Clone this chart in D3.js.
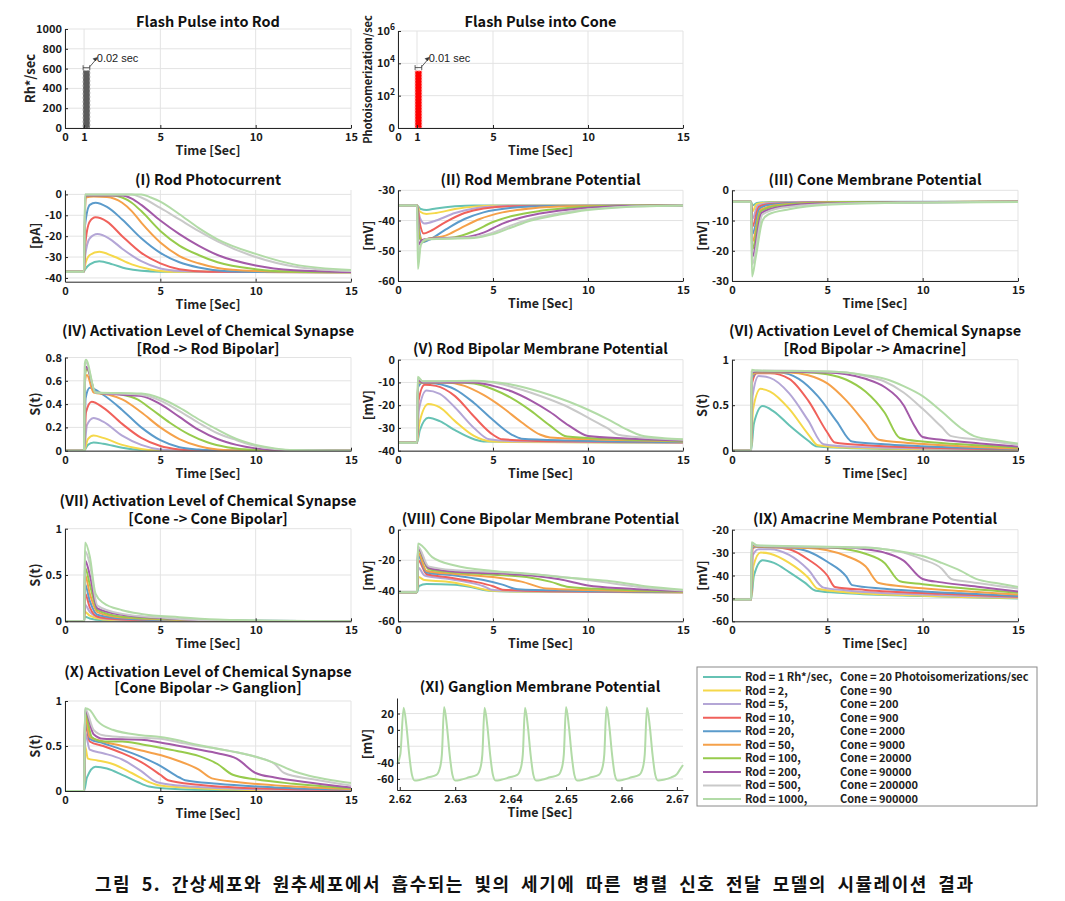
<!DOCTYPE html>
<html><head><meta charset="utf-8">
<script src="https://cdn.jsdelivr.net/npm/d3@7"></script>
<style>
body{margin:0;background:#fff;}
text{font-family:"Noto Sans CJK KR","Noto Sans",sans-serif;}
</style></head>
<body>
<script>
// ---------------- DATA ----------------
const rodLevels = [1, 2, 5, 10, 20, 50, 100, 200, 500, 1000];
const coneLevels = [20, 90, 200, 900, 2000, 9000, 20000, 90000, 200000, 900000];
const pulseTicks = [0, 1, 5, 10, 15];
const timeTicks = [0, 5, 10, 15];

// flash pulses: [start, end] time span as drawn, amplitude
const rodPulseSpan = [0.95, 1.3];
const rodPulseAmp = 580;
const conePulseSpan = [0.9, 1.25];
const conePulseAmp = 3400;
const rodPulseTicks = [0, 200, 400, 600, 800, 1000];
const conePulseTicks = [1, 100, 10000, 1000000];

// (I) Rod photocurrent [pA]
const rodPhotocurrent = [
 [[0,-37],[0.99,-37],[1.05,-36],[1.3,-33.5],[1.8,-32],[2.5,-33.5],[3.2,-35.5],[4,-36.6],[5,-37],[15,-37]],
 [[0,-37],[0.99,-37],[1.05,-34],[1.3,-29],[1.8,-27.5],[2.5,-29.5],[3.5,-33.5],[4.5,-36],[5.5,-37],[15,-37]],
 [[0,-37],[0.99,-37],[1.05,-30],[1.3,-21],[1.7,-19],[2.3,-21],[3,-26],[4,-32],[5,-35.5],[6,-36.7],[8,-37.2],[15,-37.2]],
 [[0,-37],[0.99,-37],[1.05,-25],[1.3,-13],[1.6,-11],[2.2,-13],[3,-20],[4,-28],[5,-33],[6,-35.8],[7.5,-37],[15,-37.3]],
 [[0,-37],[0.99,-37],[1.05,-15],[1.3,-5],[1.6,-4],[2.2,-6],[3,-12],[4,-21],[5,-28],[6,-32.5],[7,-35],[8.5,-36.8],[10,-37.2],[15,-37.3]],
 [[0,-37],[0.99,-37],[1.08,-1.5],[1.5,-1],[2.2,-1.2],[3,-4],[3.5,-8],[4,-13.5],[5,-23],[6,-29.5],[7,-33],[8,-35.2],[10,-36.7],[12,-37.1],[15,-37.3]],
 [[0,-37],[0.99,-37],[1.07,-0.5],[2.5,-0.5],[3,-1.5],[3.5,-4],[4,-8],[5,-17.5],[6,-24.5],[7,-29],[8,-32.5],[10,-35.8],[12,-37],[15,-37.3]],
 [[0,-37],[0.99,-37],[1.07,-0.5],[3,-0.5],[3.5,-2],[4,-5],[5,-12.5],[6,-19],[7,-24.5],[8,-29],[10,-34],[12,-36.3],[15,-37.2]],
 [[0,-37],[0.99,-37],[1.06,0],[3.5,0],[4,-1.5],[5,-6.5],[6,-12],[7,-17.5],[8,-22.5],[10,-30],[12,-34.5],[15,-36.7]],
 [[0,-37],[0.99,-37],[1.05,0],[4,0],[4.5,-1.5],[5,-3.5],[6,-9.5],[7,-16],[8,-21.5],[10,-28.5],[12,-33.5],[15,-36.2]]
];

// (II) Rod membrane potential [mV]
const rodPotential = [
 [[0,-35],[1,-35],[1.2,-36.2],[1.5,-36.5],[2,-36],[3,-35.3],[4,-35],[15,-35]],
 [[0,-35],[1,-35],[1.15,-37],[1.5,-37.8],[2,-37.5],[3,-36.2],[4,-35.4],[5,-35.1],[15,-35]],
 [[0,-35],[1,-35],[1.15,-39],[1.4,-41],[2,-40],[3,-37.5],[4,-36],[5,-35.4],[6,-35.1],[15,-35]],
 [[0,-35],[1,-35],[1.12,-40],[1.35,-44.3],[1.7,-43.5],[2.5,-40.5],[3.5,-37.5],[4.5,-36],[6,-35.3],[15,-35]],
 [[0,-35],[1,-35],[1.1,-42],[1.3,-47.2],[1.6,-46.5],[2.5,-43],[3.5,-39.5],[4.5,-37.3],[6,-35.8],[8,-35.2],[15,-35]],
 [[0,-35],[1,-35],[1.1,-44],[1.3,-46.5],[1.6,-46],[2.5,-45],[3.3,-42.5],[4.3,-39.5],[5.5,-37.3],[7,-36],[9,-35.3],[15,-35]],
 [[0,-35],[1,-35],[1.1,-45],[1.3,-47],[1.6,-46],[3,-45.5],[4,-43.5],[5,-40.5],[6,-38.5],[7.5,-36.8],[9.5,-35.6],[12,-35.1],[15,-35]],
 [[0,-35],[1,-35],[1.08,-48],[1.25,-46.5],[1.6,-46],[3.5,-45.5],[4.5,-44],[5.5,-41],[6.5,-39],[8,-37.2],[10,-35.8],[12,-35.2],[15,-35]],
 [[0,-35],[1,-35],[1.07,-52],[1.2,-48],[1.5,-46.2],[4,-45.5],[5,-44],[6,-41.5],[7,-39.5],[8.5,-37.6],[10,-36.3],[12,-35.4],[15,-35]],
 [[0,-35],[1,-35],[1.05,-56],[1.2,-48],[1.5,-46.2],[4,-45.8],[5,-44.5],[6,-42.2],[7,-40],[8.5,-38],[10,-36.5],[12,-35.5],[15,-35]]
];

// (III) Cone membrane potential [mV]
const conePotential = [
 [[0,-3.8],[1,-3.8],[1.08,-5],[1.3,-4.2],[2,-3.9],[15,-3.8]],
 [[0,-3.8],[1,-3.8],[1.07,-7],[1.3,-4.5],[2,-4],[15,-3.8]],
 [[0,-3.8],[1,-3.8],[1.07,-9.5],[1.35,-5],[2,-4.2],[4,-3.9],[15,-3.8]],
 [[0,-3.8],[1,-3.8],[1.07,-12],[1.4,-5.5],[2,-4.5],[4,-4],[15,-3.8]],
 [[0,-3.8],[1,-3.8],[1.07,-14.5],[1.45,-6],[2,-4.8],[4,-4.1],[15,-3.8]],
 [[0,-3.8],[1,-3.8],[1.06,-17],[1.5,-6.5],[2.2,-5],[4,-4.2],[7,-3.9],[15,-3.8]],
 [[0,-3.8],[1,-3.8],[1.06,-19.5],[1.5,-7],[2.3,-5.2],[4,-4.3],[7,-3.9],[15,-3.8]],
 [[0,-3.8],[1,-3.8],[1.06,-22],[1.55,-7.5],[2.5,-5.5],[4.5,-4.4],[8,-4],[15,-3.8]],
 [[0,-3.8],[1,-3.8],[1.05,-24.5],[1.6,-8],[2.6,-5.8],[5,-4.5],[9,-4],[15,-3.8]],
 [[0,-3.8],[1,-3.8],[1.05,-28.5],[1.25,-22],[1.6,-10],[1.9,-8],[3,-6.3],[5,-4.8],[8,-4.2],[15,-3.9]]
];

// (IV) Synapse activation Rod -> Rod Bipolar
const synRodToRodBipolar = [
 [[0,0],[1,0],[1.2,0.05],[1.5,0.07],[2,0.06],[3,0.025],[4,0.005],[5,0],[15,0]],
 [[0,0],[1,0],[1.2,0.1],[1.5,0.13],[2,0.11],[3,0.05],[4,0.015],[5,0],[15,0]],
 [[0,0],[1,0],[1.15,0.22],[1.5,0.28],[2,0.25],[3,0.13],[4,0.05],[5,0.01],[6,0],[15,0]],
 [[0,0],[1,0],[1.1,0.33],[1.4,0.42],[2,0.37],[3,0.23],[4,0.11],[5,0.04],[6,0.01],[7,0],[15,0]],
 [[0,0],[1,0],[1.08,0.45],[1.3,0.54],[2,0.48],[3,0.35],[4,0.2],[5,0.09],[6,0.03],[7,0.01],[8,0],[15,0]],
 [[0,0],[1,0],[1.05,0.6],[1.15,0.65],[1.5,0.5],[2.3,0.48],[3,0.44],[4,0.33],[5,0.2],[6,0.1],[7,0.04],[8,0.01],[9,0],[15,0]],
 [[0,0],[1,0],[1.05,0.65],[1.15,0.7],[1.6,0.5],[3,0.48],[3.8,0.44],[4.5,0.36],[5.5,0.24],[6.5,0.14],[7.5,0.07],[8.5,0.03],[10,0.005],[15,0]],
 [[0,0],[1,0],[1.05,0.68],[1.12,0.72],[1.6,0.5],[3,0.48],[4,0.47],[5,0.4],[6,0.29],[7,0.18],[8,0.1],[9,0.05],[10,0.02],[11,0.005],[15,0]],
 [[0,0],[1,0],[1.04,0.72],[1.1,0.76],[1.6,0.5],[4,0.48],[5,0.43],[6,0.34],[7,0.24],[8,0.15],[9,0.09],[10,0.04],[11,0.015],[12,0.003],[15,0]],
 [[0,0],[1,0],[1.04,0.75],[1.1,0.78],[1.6,0.5],[4,0.49],[5,0.45],[6,0.37],[7,0.27],[8,0.18],[9,0.1],[10,0.05],[11,0.02],[12,0.005],[15,0]]
];

// (V) Rod bipolar membrane potential [mV]
const rodBipolarPotential = [
 [[0,-36.5],[1,-36.5],[1.15,-31],[1.6,-25.5],[2.2,-27],[3,-31],[4,-35],[4.5,-36],[15,-36.5]],
 [[0,-36.5],[1,-36.5],[1.12,-28],[1.6,-19.5],[2.2,-21],[3,-27],[4,-33.5],[4.8,-35.8],[6,-36.2],[15,-36.5]],
 [[0,-36.5],[1,-36.5],[1.1,-22],[1.5,-13.5],[2.2,-15],[3,-21],[4,-30],[4.8,-35],[6,-35.8],[15,-36.5]],
 [[0,-36.5],[1,-36.5],[1.08,-18],[1.4,-11],[2,-11.5],[3,-16],[4,-25],[5,-33],[5.5,-35],[8,-35.8],[15,-36.3]],
 [[0,-36.5],[1,-36.5],[1.06,-12],[1.3,-10],[2,-10.5],[3,-13],[4,-19],[5,-26.5],[6,-33],[6.5,-34.7],[9,-35.5],[15,-36.2]],
 [[0,-36.5],[1,-36.5],[1.05,-10],[1.3,-10],[2.5,-10],[3.5,-11.5],[4.5,-15.5],[5.5,-21],[6.5,-27.5],[7.5,-33],[8,-34.2],[11,-35.2],[15,-36]],
 [[0,-36.5],[1,-36.5],[1.05,-9.5],[1.3,-10],[3,-10],[4,-10.5],[5,-13],[6,-17],[7,-22.5],[8,-29],[8.9,-33.8],[11,-34.8],[15,-35.8]],
 [[0,-36.5],[1,-36.5],[1.05,-9],[1.3,-10],[3,-10],[4,-10],[5,-11.5],[6,-14],[7,-18],[8,-23],[9,-29],[10,-33.5],[12,-34.6],[15,-35.5]],
 [[0,-36.5],[1,-36.5],[1.04,-8],[1.3,-9.5],[4,-9.5],[5,-10],[6,-12],[7,-14.5],[8,-17.5],[9,-21],[10,-25.5],[11,-30],[11.6,-33],[13,-34.3],[15,-35.2]],
 [[0,-36.5],[1,-36.5],[1.04,-7.5],[1.3,-9.5],[4,-9.2],[5,-9.8],[6,-11],[7,-13],[8,-15.5],[9,-18.5],[10,-22],[11,-26],[12,-30.5],[12.8,-33.3],[14,-34.5],[15,-35]]
];

// (VI) Synapse activation Rod Bipolar -> Amacrine
const synRodBipolarToAmacrine = [
 [[0,0],[1,0],[1.15,0.3],[1.6,0.49],[2.2,0.43],[3,0.28],[4,0.11],[4.4,0.05],[6,0.03],[10,0.015],[15,0.005]],
 [[0,0],[1,0],[1.1,0.45],[1.5,0.68],[2,0.65],[3,0.46],[4,0.18],[4.5,0.06],[6,0.035],[10,0.02],[15,0.01]],
 [[0,0],[1,0],[1.08,0.6],[1.4,0.82],[2,0.8],[3,0.63],[4,0.33],[4.8,0.07],[6,0.045],[10,0.025],[15,0.012]],
 [[0,0],[1,0],[1.06,0.75],[1.3,0.85],[2,0.85],[3,0.79],[4,0.55],[5,0.2],[5.4,0.09],[7,0.06],[10,0.035],[15,0.015]],
 [[0,0],[1,0],[1.05,0.8],[1.3,0.86],[2.5,0.86],[3.5,0.79],[4.5,0.6],[5.5,0.32],[6.3,0.1],[8,0.07],[11,0.04],[15,0.02]],
 [[0,0],[1,0],[1.05,0.83],[1.3,0.86],[3,0.86],[4,0.83],[5,0.74],[6,0.55],[7,0.3],[7.7,0.12],[9,0.09],[12,0.05],[15,0.025]],
 [[0,0],[1,0],[1.04,0.85],[1.3,0.87],[4,0.86],[5,0.84],[6,0.78],[7,0.65],[8,0.42],[8.8,0.14],[10,0.1],[12,0.07],[15,0.035]],
 [[0,0],[1,0],[1.04,0.86],[1.3,0.87],[5,0.86],[6,0.84],[7,0.79],[8,0.7],[9,0.5],[9.5,0.3],[10,0.15],[11,0.12],[13,0.08],[15,0.045]],
 [[0,0],[1,0],[1.03,0.87],[1.3,0.88],[5,0.87],[6,0.86],[7,0.82],[8,0.76],[9,0.64],[10,0.46],[11,0.26],[11.5,0.16],[13,0.12],[15,0.065]],
 [[0,0],[1,0],[1.03,0.89],[1.3,0.88],[5,0.87],[6,0.86],[7,0.83],[8,0.79],[9,0.71],[10,0.6],[11,0.43],[12,0.25],[12.7,0.16],[14,0.11],[15,0.08]]
];

// (VII) Synapse activation Cone -> Cone Bipolar
const synConeToConeBipolar = [
 [[0,0],[1,0],[1.05,0.05],[1.3,0.03],[2,0.01],[4,0],[15,0]],
 [[0,0],[1,0],[1.05,0.1],[1.3,0.06],[2,0.02],[4,0.005],[15,0]],
 [[0,0],[1,0],[1.05,0.18],[1.3,0.1],[2,0.03],[4,0.01],[15,0]],
 [[0,0],[1,0],[1.05,0.3],[1.3,0.15],[1.7,0.05],[3,0.02],[6,0.005],[15,0]],
 [[0,0],[1,0],[1.05,0.4],[1.3,0.22],[1.7,0.07],[3,0.03],[6,0.01],[15,0]],
 [[0,0],[1,0],[1.05,0.5],[1.3,0.3],[1.7,0.1],[3,0.04],[6,0.015],[10,0],[15,0]],
 [[0,0],[1,0],[1.05,0.58],[1.3,0.4],[1.7,0.12],[3,0.05],[6,0.02],[10,0.003],[15,0]],
 [[0,0],[1,0],[1.05,0.66],[1.3,0.5],[1.7,0.14],[3,0.07],[5,0.035],[7,0.012],[10,0],[15,0]],
 [[0,0],[1,0],[1.05,0.76],[1.3,0.62],[1.7,0.17],[3,0.08],[5,0.04],[7,0.015],[10,0.003],[15,0]],
 [[0,0],[1,0],[1.05,0.85],[1.3,0.7],[1.6,0.3],[2,0.2],[3,0.12],[4,0.08],[6,0.045],[8,0.02],[10,0.01],[15,0]]
];

// (VIII) Cone bipolar membrane potential [mV]
const coneBipolarPotential = [
 [[0,-41],[1,-41],[1.1,-37],[1.5,-35.5],[3,-36],[4,-38],[4.8,-40],[6,-40.5],[15,-41]],
 [[0,-41],[1,-41],[1.08,-31],[1.4,-33],[2.5,-34],[3.5,-36],[4.5,-39],[5,-40],[7,-40.5],[15,-41]],
 [[0,-41],[1,-41],[1.07,-25],[1.4,-30],[2.5,-32],[3.5,-34],[4.5,-37],[5,-39.5],[7,-40.3],[15,-41]],
 [[0,-41],[1,-41],[1.06,-20],[1.5,-29],[2.5,-31],[4,-34],[5,-37],[5.5,-39.3],[8,-40.3],[15,-41]],
 [[0,-41],[1,-41],[1.06,-17],[1.5,-28],[3,-30],[4.5,-33],[5.5,-36],[6.3,-39],[9,-40],[15,-40.8]],
 [[0,-41],[1,-41],[1.05,-15],[1.5,-27],[3,-29],[5,-31],[6.5,-34],[7.8,-38.5],[10,-39.5],[15,-40.6]],
 [[0,-41],[1,-41],[1.05,-13],[1.6,-26],[3,-28],[5,-29.5],[7,-31.5],[8,-34],[9,-37.5],[11,-39],[15,-40.4]],
 [[0,-41],[1,-41],[1.05,-12],[1.6,-25],[3,-27.5],[5,-28.5],[7,-30],[8.5,-32.5],[10,-36.5],[12,-38.5],[15,-40.2]],
 [[0,-41],[1,-41],[1.05,-11],[1.6,-24],[3,-26.5],[5,-27.5],[7,-29],[9,-31.5],[10,-33],[11.5,-35.5],[13,-38],[15,-39.8]],
 [[0,-41],[1,-41],[1.05,-9],[1.3,-11],[1.8,-18],[3,-23.5],[5,-27],[7,-29],[9,-31.5],[11,-33.5],[13,-37],[15,-39.3]]
];

// (IX) Amacrine membrane potential [mV]
const amacrinePotential = [
 [[0,-50.5],[1,-50.5],[1.15,-40],[1.6,-33.3],[2.2,-34.5],[3,-38.5],[3.8,-43],[4.4,-46.7],[6,-47.8],[10,-49],[15,-50]],
 [[0,-50.5],[1,-50.5],[1.12,-36],[1.5,-30],[2,-30.5],[3,-34.5],[4,-41],[4.5,-45.8],[6,-47.3],[10,-48.8],[15,-49.8]],
 [[0,-50.5],[1,-50.5],[1.1,-31],[1.4,-28.5],[2,-28.5],[3,-31],[4,-37.5],[4.8,-45.3],[6,-46.5],[10,-48.3],[15,-49.6]],
 [[0,-50.5],[1,-50.5],[1.08,-28],[1.3,-27.5],[2,-27.5],[3,-28.5],[4,-33],[5,-40],[5.4,-45],[7,-46.3],[11,-48],[15,-49.3]],
 [[0,-50.5],[1,-50.5],[1.06,-27.5],[1.3,-27.5],[3,-28],[4,-29.5],[5,-34],[6,-40.5],[6.3,-44.2],[8,-45.8],[12,-47.8],[15,-49]],
 [[0,-50.5],[1,-50.5],[1.05,-27],[1.3,-27.5],[4,-28],[5,-29],[6,-31.5],[7,-36],[7.7,-43.3],[9,-44.8],[12,-46.8],[15,-48.3]],
 [[0,-50.5],[1,-50.5],[1.05,-26.5],[1.3,-27.3],[5,-27.8],[6,-28.5],[7,-30.5],[8,-34.5],[8.8,-42.5],[10,-43.8],[12,-45.5],[15,-47.5]],
 [[0,-50.5],[1,-50.5],[1.04,-26],[1.3,-27.2],[6,-27.8],[7,-28.5],[8,-30],[9,-33.5],[10,-41.5],[11,-43],[13,-45],[15,-47]],
 [[0,-50.5],[1,-50.5],[1.04,-25.8],[1.3,-27],[7,-27.8],[8,-28.5],[9,-30],[10,-33],[11,-37],[11.5,-41.5],[12.5,-42.8],[15,-45.7]],
 [[0,-50.5],[1,-50.5],[1.03,-25.5],[1.3,-26.8],[7,-27.8],[8,-28.5],[9,-29.7],[10,-31.5],[11,-34.5],[12,-38],[12.8,-41.5],[14,-43.5],[15,-45]]
];

// (X) Synapse activation Cone Bipolar -> Ganglion
const synConeBipolarToGanglion = [
 [[0,0],[1,0],[1.15,0.15],[1.6,0.27],[2.2,0.25],[3,0.18],[3.8,0.1],[4.4,0.05],[6,0.02],[10,0.005],[15,0]],
 [[0,0],[1,0],[1.05,0.5],[1.2,0.36],[1.7,0.34],[2.5,0.3],[3.5,0.2],[4.4,0.1],[5,0.06],[7,0.03],[10,0.01],[15,0]],
 [[0,0],[1,0],[1.05,0.65],[1.3,0.46],[2,0.42],[3,0.35],[4,0.22],[4.8,0.1],[6,0.06],[9,0.025],[15,0.005]],
 [[0,0],[1,0],[1.05,0.75],[1.3,0.55],[2,0.5],[3,0.42],[4,0.32],[5,0.18],[5.4,0.12],[7,0.07],[10,0.03],[15,0.01]],
 [[0,0],[1,0],[1.05,0.8],[1.3,0.58],[2,0.53],[3,0.46],[4,0.38],[5,0.28],[6,0.15],[6.3,0.12],[8,0.08],[11,0.04],[15,0.015]],
 [[0,0],[1,0],[1.05,0.85],[1.3,0.6],[2,0.55],[3,0.5],[4,0.45],[5,0.4],[6,0.33],[7,0.24],[7.7,0.14],[9,0.1],[12,0.05],[15,0.02]],
 [[0,0],[1,0],[1.05,0.88],[1.4,0.6],[2,0.55],[3,0.55],[4,0.52],[5,0.48],[6,0.44],[7,0.39],[8,0.3],[8.8,0.18],[10,0.13],[12,0.08],[15,0.03]],
 [[0,0],[1,0],[1.05,0.9],[1.5,0.63],[2,0.58],[4,0.57],[5,0.54],[6,0.5],[7,0.46],[8,0.42],[9,0.36],[10,0.2],[11,0.15],[13,0.09],[15,0.04]],
 [[0,0],[1,0],[1.05,0.92],[1.5,0.68],[2,0.62],[3,0.6],[5,0.58],[6,0.54],[7,0.5],[8,0.47],[9,0.43],[10,0.38],[11,0.3],[11.5,0.2],[13,0.13],[15,0.06]],
 [[0,0],[1,0],[1.05,0.92],[1.3,0.9],[1.7,0.78],[2.5,0.68],[4,0.62],[5,0.6],[6,0.56],[7,0.51],[8,0.47],[9,0.43],[10,0.38],[11,0.31],[12,0.22],[12.8,0.17],[14,0.12],[15,0.09]]
];

// (XI) Ganglion membrane potential [mV] (Rod = 1000 case only)
const ganglionTime = [2.62, 2.63, 2.64, 2.65, 2.66, 2.67];
const ganglionTicks = [20, 0, -20, -40, -60];
const ganglionPotential = [
 [2.6195,-42],[2.6201,-30],[2.6207,27],[2.6212,5],[2.6217,-30],[2.6222,-55],[2.6227,-62],[2.6237,-61],[2.6252,-58],[2.6266,-55],
 [2.6273,-45],[2.6276,-30],[2.6280,28],[2.6285,5],[2.6290,-30],[2.6295,-55],[2.6300,-62],[2.6310,-61],[2.6325,-58],[2.6339,-55],
 [2.6346,-45],[2.6349,-30],[2.6353,27],[2.6358,5],[2.6363,-30],[2.6368,-55],[2.6373,-62],[2.6383,-61],[2.6398,-58],[2.6412,-55],
 [2.6419,-45],[2.6422,-30],[2.6426,27],[2.6431,5],[2.6436,-30],[2.6441,-55],[2.6446,-62],[2.6456,-61],[2.6471,-58],[2.6486,-55],
 [2.6493,-45],[2.6496,-30],[2.6500,28],[2.6505,5],[2.6510,-30],[2.6515,-55],[2.6520,-62],[2.6530,-61],[2.6545,-58],[2.6559,-55],
 [2.6566,-45],[2.6569,-30],[2.6573,28],[2.6578,5],[2.6583,-30],[2.6588,-55],[2.6593,-62],[2.6603,-61],[2.6618,-58],[2.6632,-55],
 [2.6639,-45],[2.6642,-30],[2.6646,27],[2.6651,5],[2.6656,-30],[2.6661,-55],[2.6666,-62],[2.6676,-61],[2.6690,-58],[2.6700,-54],[2.6706,-48],[2.6711,-43]
];

const seriesColors = ["#66c2b4","#f5d84a","#b4a6d6","#f0615b","#5b9bcb","#f5a14a","#97cb4c","#a35aa8","#c9c9c9","#b2dba7"];

// ---------------- DRAWING ----------------
const W = 1065, H = 901;
const svg = d3.select("body").append("svg").attr("width", W).attr("height", H);
svg.append("rect").attr("width", W).attr("height", H).attr("fill", "#fff");

const GRID = "#e3e3e3", AX = "#262626";

function makeAxes(p, x, y) {
  const g = svg.append("g");
  if (p.xGrid !== false) {
    g.selectAll(null).data(p.xTicks).enter().append("line")
      .attr("x1", d => x(d)).attr("x2", d => x(d)).attr("y1", p.T).attr("y2", p.B)
      .attr("stroke", GRID).attr("stroke-width", 1);
  }
  g.selectAll(null).data(p.yTicks).enter().append("line")
    .attr("x1", p.L).attr("x2", p.R).attr("y1", d => y(d)).attr("y2", d => y(d))
    .attr("stroke", GRID).attr("stroke-width", 1);
  return g;
}

function styleAxis(sel) {
  sel.select(".domain").attr("stroke", AX).attr("stroke-width", 1);
  sel.selectAll(".tick line").attr("stroke", AX);
  sel.selectAll(".tick text").attr("fill", "#1a1a1a")
    .style("font-family", '"Noto Sans CJK KR",sans-serif')
    .style("font-weight", "bold").style("font-size", "11px");
}

function drawFrame(p, x, y) {
  const gx = svg.append("g").attr("transform", `translate(0,${p.B})`)
    .call(d3.axisBottom(x).tickValues(p.xTicks).tickFormat(p.xFmt || (d => String(d)))
      .tickSizeInner(-3).tickSizeOuter(0).tickPadding(5));
  styleAxis(gx);
  const gy = svg.append("g").attr("transform", `translate(${p.L},0)`)
    .call(d3.axisLeft(y).tickValues(p.yTicks).tickFormat(p.yFmt || (d => String(d)))
      .tickSizeInner(-3).tickSizeOuter(0).tickPadding(3));
  styleAxis(gy);
  if (p.yLabelHide) gy.selectAll(".tick text").filter(d => p.yLabelHide.includes(d)).remove();
  p.title.forEach((t, i) => {
    svg.append("text").attr("x", (p.L + p.R) / 2).attr("y", p.titleY[i] + 5)
      .attr("text-anchor", "middle").style("font-weight", "bold").style("font-size", "14.5px")
      .attr("fill", "#111").text(t);
  });
  svg.append("text").attr("x", (p.L + p.R) / 2).attr("y", p.B + 27)
    .attr("text-anchor", "middle").style("font-weight", "bold").style("font-size", "12.5px")
    .attr("fill", "#222").text("Time [Sec]");
  const yc = (p.T + p.B) / 2, xl = p.L - (p.yLabOff || 30);
  svg.append("text").attr("transform", `translate(${xl},${yc}) rotate(-90)`)
    .attr("dy", "0.35em").attr("text-anchor", "middle").style("font-weight", "bold")
    .style("font-size", (p.yLabSize || 13) + "px").attr("fill", "#222").text(p.ylabel);
  return gy;
}

const lineGen = (x, y) => d3.line().x(d => x(d[0])).y(d => y(d[1])).curve(d3.curveMonotoneX);

function drawMultiPanel(p) {
  const x = d3.scaleLinear().domain([0, 15]).range([p.L, p.R]);
  const y = d3.scaleLinear().domain(p.yDomain).range([p.B, p.T]);
  p.xTicks = timeTicks;
  makeAxes(p, x, y);
  const clipId = "clip" + p.id;
  svg.append("clipPath").attr("id", clipId).append("rect")
    .attr("x", p.L).attr("y", p.T - 4).attr("width", p.R - p.L).attr("height", p.B - p.T + 4);
  const lg = svg.append("g").attr("clip-path", `url(#${clipId})`);
  const gen = lineGen(x, y);
  p.data.forEach((s, i) => {
    lg.append("path").attr("d", gen(s)).attr("fill", "none")
      .attr("stroke", seriesColors[i]).attr("stroke-width", 2).attr("stroke-linejoin", "round");
  });
  drawFrame(p, x, y);
}

const panels = [
  {id:"I", title:["(I) Rod Photocurrent"], titleY:[180], data:rodPhotocurrent, L:65, R:351, T:190, B:281.7, yDomain:[-41.8,2.1], yTicks:[0,-10,-20,-30,-40], ylabel:"[pA]"},
  {id:"II", title:["(II) Rod Membrane Potential"], titleY:[180], data:rodPotential, L:398, R:683, T:190.3, B:281, yDomain:[-60,-30], yTicks:[-30,-40,-50,-60], ylabel:"[mV]"},
  {id:"III", title:["(III) Cone Membrane Potential"], titleY:[180], data:conePotential, L:732, R:1018, T:190.3, B:281, yDomain:[-30,0], yTicks:[0,-10,-20,-30], ylabel:"[mV]"},
  {id:"IV", title:["(IV) Activation Level of Chemical Synapse","[Rod -> Rod Bipolar]"], titleY:[331,349], data:synRodToRodBipolar, L:65, R:351, T:357.5, B:450.7, yDomain:[0,0.8], yTicks:[0,0.2,0.4,0.6,0.8], ylabel:"S(t)"},
  {id:"V", title:["(V) Rod Bipolar Membrane Potential"], titleY:[348.7], data:rodBipolarPotential, L:398, R:683, T:359.7, B:450.7, yDomain:[-40,0], yTicks:[0,-10,-20,-30,-40], ylabel:"[mV]"},
  {id:"VI", title:["(VI) Activation Level of Chemical Synapse","[Rod Bipolar -> Amacrine]"], titleY:[331,349], data:synRodBipolarToAmacrine, L:732, R:1018, T:359.7, B:450.7, yDomain:[0,1], yTicks:[0,0.5,1], ylabel:"S(t)"},
  {id:"VII", title:["(VII) Activation Level of Chemical Synapse","[Cone -> Cone Bipolar]"], titleY:[500.7,519], data:synConeToConeBipolar, L:65, R:351, T:528.7, B:621.3, yDomain:[0,1], yTicks:[0,0.5,1], ylabel:"S(t)"},
  {id:"VIII", title:["(VIII) Cone Bipolar Membrane Potential"], titleY:[518.7], data:coneBipolarPotential, L:398, R:683, T:529.7, B:621.3, yDomain:[-60,0], yTicks:[0,-20,-40,-60], ylabel:"[mV]"},
  {id:"IX", title:["(IX) Amacrine Membrane Potential"], titleY:[518.7], data:amacrinePotential, L:732, R:1018, T:529.7, B:621.3, yDomain:[-60,-20], yTicks:[-20,-30,-40,-50,-60], ylabel:"[mV]"},
  {id:"X", title:["(X) Activation Level of Chemical Synapse","[Cone Bipolar -> Ganglion]"], titleY:[671.7,688], data:synConeBipolarToGanglion, L:65, R:351, T:701, B:791, yDomain:[0,1], yTicks:[0,0.5,1], ylabel:"S(t)"}
];
panels.forEach(drawMultiPanel);

function annot(x, y, span, val, label) {
  const x0 = x(span[0]), x1 = x(span[1]), yy = y(val);
  const g = svg.append("g").attr("stroke", "#333").attr("stroke-width", 0.8);
  g.append("line").attr("x1", x0).attr("x2", x1).attr("y1", yy).attr("y2", yy);
  g.append("line").attr("x1", x0).attr("x2", x0).attr("y1", yy - 2.5).attr("y2", yy + 2.5);
  g.append("line").attr("x1", x1).attr("x2", x1).attr("y1", yy - 2.5).attr("y2", yy + 2.5);
  g.append("line").attr("x1", x1).attr("y1", yy - 1).attr("x2", x1 + 6).attr("y2", yy - 8);
  g.append("path").attr("d", `M${x1 + 7.5},${yy - 10} l-4,1 l2.2,2.2 z`).attr("fill", "#333");
  svg.append("text").attr("x", x1 + 7).attr("y", yy - 6).style("font-family", '"Liberation Sans",Arial,sans-serif')
    .style("font-size", "11px").attr("fill", "#222").text(label);
}

// ----- Flash pulse into Rod -----
(function () {
  const p = {L:65, R:351, T:29, B:128, title:["Flash Pulse into Rod"], titleY:[22], ylabel:"Rh*/sec", yLabOff:35,
             xTicks:pulseTicks, yTicks:rodPulseTicks};
  const x = d3.scaleLinear().domain([0, 15]).range([p.L, p.R]);
  const y = d3.scaleLinear().domain([0, 1000]).range([p.B, p.T]);
  makeAxes(p, x, y);
  svg.append("rect").attr("x", x(rodPulseSpan[0])).attr("width", x(rodPulseSpan[1]) - x(rodPulseSpan[0]))
    .attr("y", y(rodPulseAmp)).attr("height", y(0) - y(rodPulseAmp))
    .attr("fill", "#5c5c5c").attr("stroke", "#a0a0a0").attr("stroke-width", 1).attr("stroke-dasharray", "2,2");
  annot(x, y, rodPulseSpan, rodPulseAmp * 1.05, "0.02 sec");
  drawFrame(p, x, y);
})();

// ----- Flash pulse into Cone -----
(function () {
  const p = {L:398, R:683, T:31, B:128, title:["Flash Pulse into Cone"], titleY:[22], ylabel:"Photoisomerization/sec", yLabOff:30, yLabSize:11,
             xTicks:pulseTicks, yTicks:conePulseTicks};
  const x = d3.scaleLinear().domain([0, 15]).range([p.L, p.R]);
  const y = d3.scaleLog().domain([1, 1e6]).range([p.B, p.T]);
  makeAxes(p, x, y);
  svg.append("rect").attr("x", x(conePulseSpan[0])).attr("width", x(conePulseSpan[1]) - x(conePulseSpan[0]))
    .attr("y", y(conePulseAmp)).attr("height", y(1) - y(conePulseAmp))
    .attr("fill", "#ff0000").attr("stroke", "#ff9a9a").attr("stroke-width", 1).attr("stroke-dasharray", "2,1");
  annot(x, y, conePulseSpan, conePulseAmp * 1.6, "0.01 sec");
  const gy = drawFrame(p, x, y);
  gy.selectAll(".tick text").each(function (d) {
    const t = d3.select(this);
    if (d === 1) { t.text("0"); return; }
    const e = Math.round(Math.log10(d));
    t.text("10");
    t.append("tspan").attr("dy", "-0.6em").style("font-size", "8.5px").text(String(e));
  });
})();

// ----- (XI) Ganglion membrane potential -----
(function () {
  const p = {L:397, R:683, T:698, B:790, title:["(XI) Ganglion Membrane Potential"], titleY:[687], ylabel:"[mV]",
             xTicks:ganglionTime, yTicks:ganglionTicks, xGrid:false, xFmt:d3.format(".2f"), yLabelHide:[-20]};
  const x = d3.scaleLinear().domain([2.6195, 2.6711]).range([p.L, p.R]);
  const y = d3.scaleLinear().domain([-73.5, 39]).range([p.B, p.T]);
  makeAxes(p, x, y);
  svg.append("path").attr("d", lineGen(x, y)(ganglionPotential)).attr("fill", "none")
    .attr("stroke", seriesColors[9]).attr("stroke-width", 2);
  drawFrame(p, x, y);
})();

// ----- Legend -----
(function () {
  const L = 697, T = 667, Wd = 340, Ht = 139;
  svg.append("rect").attr("x", L).attr("y", T).attr("width", Wd).attr("height", Ht)
    .attr("fill", "#fff").attr("stroke", "#8a8a8a").attr("stroke-width", 1);
  const ly = d3.scaleLinear().domain([0, 9]).range([T + 10, T + 132]);
  rodLevels.forEach((r, i) => {
    const yy = ly(i);
    svg.append("line").attr("x1", L + 6).attr("x2", L + 44).attr("y1", yy).attr("y2", yy)
      .attr("stroke", seriesColors[i]).attr("stroke-width", 2);
    const rodTxt = i === 0 ? `Rod = ${r} Rh*/sec,` : `Rod = ${r},`;
    const coneTxt = i === 0 ? `Cone = ${coneLevels[i]} Photoisomerizations/sec` : `Cone = ${coneLevels[i]}`;
    svg.append("text").attr("x", L + 48).attr("y", yy + 4).style("font-weight", "bold").style("font-size", "11px")
      .attr("fill", "#222").text(rodTxt);
    svg.append("text").attr("x", L + 143).attr("y", yy + 4).style("font-weight", "bold").style("font-size", "11px")
      .attr("fill", "#222").text(coneTxt);
  });
})();

// ----- Caption -----
svg.append("text").attr("x", 95).attr("y", 891)
  .style("font-weight", "bold").style("font-size", "18px").style("letter-spacing", "1.5px").style("word-spacing", "5px").attr("fill", "#111")
  .text("그림 5. 간상세포와 원추세포에서 흡수되는 빛의 세기에 따른 병렬 신호 전달 모델의 시뮬레이션 결과");
</script>
</body></html>
